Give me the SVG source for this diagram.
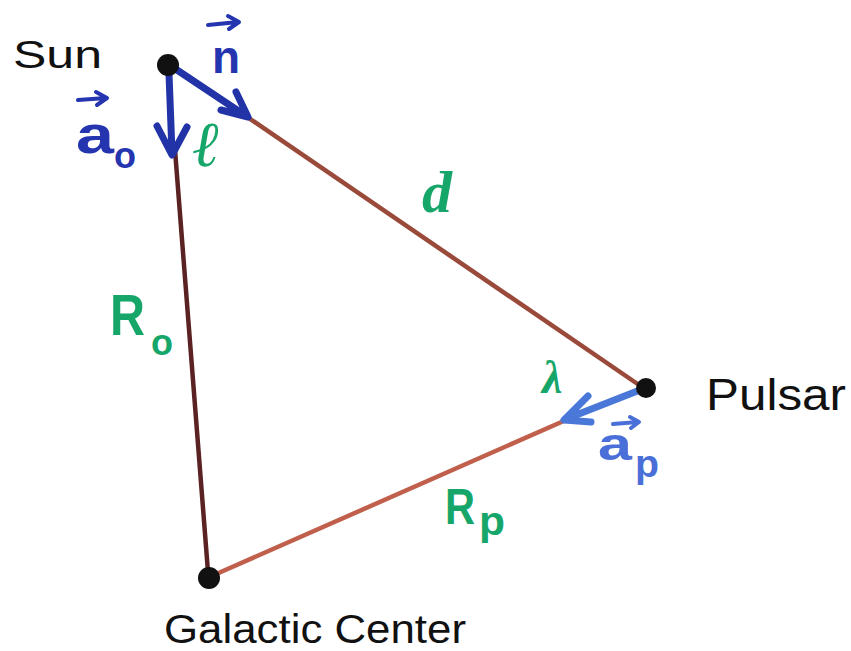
<svg xmlns="http://www.w3.org/2000/svg" width="851" height="651" viewBox="0 0 851 651">
<style>
.dot{fill:#111;}
.name{font-family:"Liberation Sans","DejaVu Sans",sans-serif;fill:#111;}
.edge{fill:none;stroke-width:4.5;stroke-linecap:round;}
.vec{fill:none;stroke:#2233a8;stroke-width:7;stroke-linecap:round;stroke-linejoin:round;}
.vecp{fill:none;stroke:#4a78d8;stroke-width:7;stroke-linecap:round;stroke-linejoin:round;}
.acc{fill:none;stroke:#2535b0;stroke-width:4;stroke-linecap:round;stroke-linejoin:round;}
.accp{fill:none;stroke:#4a6fd8;stroke-width:4;stroke-linecap:round;stroke-linejoin:round;}
.blue{font-family:"Liberation Sans","DejaVu Sans",sans-serif;fill:#2535b0;font-weight:bold;}
.bluep{font-family:"Liberation Sans","DejaVu Sans",sans-serif;fill:#4a6fd8;font-weight:bold;}
.green{font-family:"Liberation Serif","DejaVu Serif",serif;font-style:italic;font-weight:bold;fill:#17a66a;}
.greens{font-family:"Liberation Sans","DejaVu Sans",sans-serif;font-weight:bold;fill:#17a66a;}
</style>
<rect width="851" height="651" fill="#fff"/>
<g id="connectors">
  <line class="edge" x1="175" y1="150" x2="208" y2="572" stroke="#5a2222"/>
  <line class="edge" x1="240" y1="112" x2="642" y2="387" stroke="#9a4a3a"/>
  <line class="edge" x1="566" y1="420" x2="214" y2="575" stroke="#c0604c"/>
  <!-- vector a0 at Sun -->
  <path class="vec" d="M169 74 L172 153 M157 126 L172 155 L187 127"/>
  <!-- vector n at Sun -->
  <path class="vec" d="M174 68 L246 116 M236 92 L248 117 L221 110"/>
  <!-- vector ap at Pulsar -->
  <path class="vecp" d="M640 390 L566 419 M588 396 L564 420 L591 422"/>
</g>
<g id="sun">
  <circle class="dot" cx="168" cy="65" r="11"/>
  <text class="name" x="13" y="68" font-size="38" textLength="89" lengthAdjust="spacingAndGlyphs">Sun</text>
</g>
<g id="pulsar">
  <circle class="dot" cx="646" cy="388" r="10"/>
  <text class="name" x="706" y="410" font-size="44" textLength="140" lengthAdjust="spacingAndGlyphs">Pulsar</text>
</g>
<g id="galactic-center">
  <circle class="dot" cx="209" cy="578" r="11"/>
  <text class="name" x="164" y="643" font-size="40" textLength="302" lengthAdjust="spacingAndGlyphs">Galactic Center</text>
</g>
<g id="labels">
  <path class="acc" d="M208 25 L238 22 M228 16 L239 22 L229 29"/>
  <text class="blue" x="212" y="73" font-size="46">n</text>
  <path class="acc" d="M78 100 L106 98 M96 92 L107 98 L97 105"/>
  <text class="blue" x="76" y="153" font-size="54" textLength="38" lengthAdjust="spacingAndGlyphs">a</text>
  <text class="blue" x="114" y="168" font-size="36">o</text>
  <text class="green" x="193" y="166" font-size="64">ℓ</text>
  <text class="green" x="422" y="212" font-size="60">d</text>
  <text class="greens" x="110" y="335" font-size="58" textLength="35" lengthAdjust="spacingAndGlyphs">R</text>
  <text class="greens" x="151" y="355" font-size="36">o</text>
  <text class="green" x="542" y="393" font-size="46">λ</text>
  <path class="accp" d="M613 424 L638 422 M630 417 L639 422 L631 428"/>
  <text class="bluep" x="598" y="460" font-size="46" textLength="34" lengthAdjust="spacingAndGlyphs">a</text>
  <text class="bluep" x="635" y="477" font-size="38" textLength="24" lengthAdjust="spacingAndGlyphs">p</text>
  <text class="greens" x="445" y="524" font-size="50" textLength="30" lengthAdjust="spacingAndGlyphs">R</text>
  <text class="greens" x="479" y="535" font-size="40" textLength="26" lengthAdjust="spacingAndGlyphs">p</text>
</g>
</svg>
